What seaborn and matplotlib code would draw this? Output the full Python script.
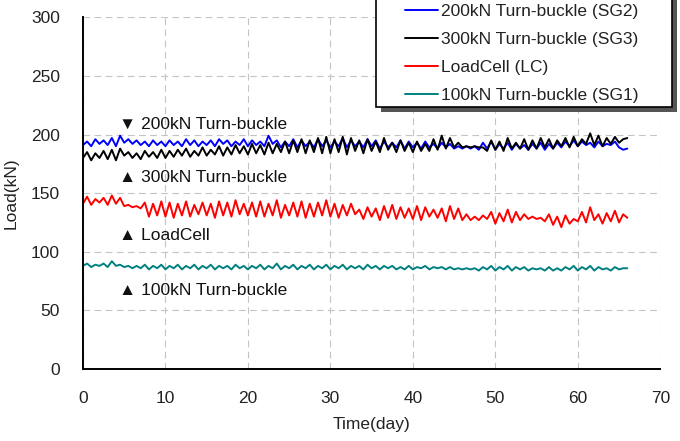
import numpy as np
import pandas as pd
import matplotlib
matplotlib.use('Agg')
import matplotlib.pyplot as plt
import seaborn as sns
from matplotlib.ticker import MultipleLocator
from matplotlib.patches import Rectangle

# Sampling times (day), half-day steps
days = [
    0.0, 0.5, 1.0, 1.5, 2.0, 2.5, 3.0, 3.5, 4.0, 4.5, 5.0, 5.5, 6.0, 6.5, 7.0, 7.5, 8.0, 8.5, 9.0, 9.5,
    10.0, 10.5, 11.0, 11.5, 12.0, 12.5, 13.0, 13.5, 14.0, 14.5, 15.0, 15.5, 16.0, 16.5, 17.0, 17.5, 18.0, 18.5, 19.0, 19.5,
    20.0, 20.5, 21.0, 21.5, 22.0, 22.5, 23.0, 23.5, 24.0, 24.5, 25.0, 25.5, 26.0, 26.5, 27.0, 27.5, 28.0, 28.5, 29.0, 29.5,
    30.0, 30.5, 31.0, 31.5, 32.0, 32.5, 33.0, 33.5, 34.0, 34.5, 35.0, 35.5, 36.0, 36.5, 37.0, 37.5, 38.0, 38.5, 39.0, 39.5,
    40.0, 40.5, 41.0, 41.5, 42.0, 42.5, 43.0, 43.5, 44.0, 44.5, 45.0, 45.5, 46.0, 46.5, 47.0, 47.5, 48.0, 48.5, 49.0, 49.5,
    50.0, 50.5, 51.0, 51.5, 52.0, 52.5, 53.0, 53.5, 54.0, 54.5, 55.0, 55.5, 56.0, 56.5, 57.0, 57.5, 58.0, 58.5, 59.0, 59.5,
    60.0, 60.5, 61.0, 61.5, 62.0, 62.5, 63.0, 63.5, 64.0, 64.5, 65.0, 65.5, 66.0,
]

sg2 = [
    191, 194, 190, 196, 192, 195, 191, 197, 190, 199, 193, 196, 192, 195, 191, 194, 190, 195, 191, 194,
    190, 195, 191, 194, 190, 196, 191, 195, 190, 194, 191, 195, 190, 196, 192, 195, 190, 194, 191, 196,
    190, 195, 191, 194, 190, 199, 192, 195, 189, 194, 190, 196, 189, 195, 190, 194, 189, 196, 190, 195,
    189, 194, 190, 197, 189, 195, 190, 194, 189, 196, 190, 195, 188, 194, 189, 193, 189, 195, 188, 194,
    189, 193, 188, 194, 189, 192, 188, 193, 189, 192, 188, 190, 188, 190, 188, 190, 187, 193, 188, 194,
    187, 192, 188, 193, 187, 192, 188, 191, 187, 192, 188, 193, 187, 192, 188, 193, 189, 194, 190, 195,
    190, 194, 191, 193, 189, 194, 190, 192, 191, 194, 189, 187, 188,
]

sg3 = [
    180, 185, 178, 184, 180, 186, 179, 187, 178, 188, 182, 185, 180, 184, 179, 186, 181, 185, 180, 187,
    180, 186, 181, 187, 182, 188, 181, 186, 182, 189, 182, 187, 183, 190, 182, 189, 183, 191, 184, 190,
    183, 192, 184, 191, 183, 193, 184, 192, 185, 194, 184, 195, 185, 196, 184, 195, 185, 197, 184, 198,
    184, 196, 185, 198, 183, 197, 186, 195, 184, 196, 186, 194, 185, 197, 187, 193, 185, 195, 186, 193,
    185, 194, 186, 192, 186, 196, 187, 199, 188, 197, 189, 193, 189, 190, 189, 190, 189, 189, 186, 195,
    187, 194, 186, 197, 188, 193, 188, 196, 187, 195, 188, 197, 189, 196, 188, 195, 190, 197, 189, 198,
    190, 196, 192, 201, 191, 199, 190, 197, 192, 198, 193, 196, 197,
]

lc = [
    141, 147, 140, 145, 142, 146, 140, 148, 141, 146, 139, 140, 138, 139, 137, 142, 130, 141, 131, 143,
    130, 142, 129, 141, 131, 143, 130, 140, 132, 142, 131, 141, 129, 143, 131, 142, 130, 144, 132, 141,
    131, 142, 130, 143, 130, 141, 131, 144, 129, 140, 131, 142, 130, 143, 129, 141, 130, 142, 131, 144,
    130, 141, 129, 140, 131, 141, 132, 136, 128, 138, 130, 137, 127, 139, 129, 140, 128, 138, 129, 137,
    128, 139, 127, 138, 130, 136, 129, 137, 126, 139, 128, 137, 127, 132, 127, 130, 127, 131, 128, 134,
    124, 133, 126, 136, 125, 134, 127, 132, 128, 130, 128, 129, 126, 132, 123, 130, 121, 131, 124, 128,
    126, 134, 125, 138, 127, 132, 124, 133, 126, 135, 125, 132, 129,
]

sg1 = [
    88, 90, 87, 89, 88, 90, 87, 92, 88, 89, 87, 88, 86, 88, 86, 89, 85, 88, 86, 89,
    85, 88, 86, 89, 85, 88, 86, 89, 85, 88, 86, 89, 85, 88, 86, 88, 85, 89, 86, 88,
    85, 88, 86, 89, 85, 88, 86, 90, 85, 88, 86, 89, 85, 88, 86, 89, 85, 88, 86, 89,
    85, 88, 86, 89, 85, 88, 86, 88, 85, 89, 86, 88, 85, 88, 86, 88, 85, 87, 85, 88,
    85, 87, 86, 88, 85, 87, 86, 87, 85, 87, 85, 86, 85, 86, 85, 86, 84, 87, 85, 88,
    84, 87, 85, 88, 84, 87, 85, 87, 84, 86, 85, 86, 84, 87, 84, 86, 84, 87, 85, 88,
    84, 87, 85, 88, 84, 87, 85, 86, 84, 87, 85, 86, 86,
]

series_names = ['200kN Turn-buckle (SG2)', '300kN Turn-buckle (SG3)',
                'LoadCell (LC)', '100kN Turn-buckle (SG1)']
series_values = [sg2, sg3, lc, sg1]
colors = ['#0000ff', '#000000', '#ff0000', '#008080']

annot_text = ['\u25bc 200kN Turn-buckle', '\u25b2 300kN Turn-buckle',
              '\u25b2 LoadCell', '\u25b2 100kN Turn-buckle']
annot_y = [209, 163, 114, 67]

df = pd.concat([pd.DataFrame({'Time': days, 'Load': v, 'Series': n})
                for n, v in zip(series_names, series_values)], ignore_index=True)

sns.set_style('white')
plt.rcParams['font.family'] = ['Liberation Sans', 'DejaVu Sans']
FS = 12.5

fig = plt.figure(figsize=(6.8, 4.41), dpi=100)
ax = fig.add_axes([0.122, 0.163, 0.849, 0.798])

# draw order: teal, red, blue, black
draw_order = [3, 2, 0, 1]
for i in draw_order:
    sub = df[df['Series'] == series_names[i]]
    sns.lineplot(data=sub, x='Time', y='Load', color=colors[i], lw=1.4,
                 ax=ax, legend=False)

ax.set_xlim(0, 70)
ax.set_ylim(0, 300)
ax.xaxis.set_major_locator(MultipleLocator(10))
ax.xaxis.set_minor_locator(MultipleLocator(2))
ax.yaxis.set_major_locator(MultipleLocator(50))
ax.yaxis.set_minor_locator(MultipleLocator(10))
ax.tick_params(which='both', direction='in', length=5, width=1.2, color='black',
               labelsize=FS, labelcolor='#222222')
ax.tick_params(axis='x', pad=16)
ax.tick_params(axis='y', pad=16.5)
ax.grid(True, which='major', color='#c4c4c4', linestyle=(0, (6, 4)), lw=0.8)
for s in ['top', 'right']:
    ax.spines[s].set_visible(False)
for s in ['left', 'bottom']:
    ax.spines[s].set_color('black')
    ax.spines[s].set_linewidth(1.4)

ax.set_xlabel('Time(day)', fontsize=FS, labelpad=8, color='#222222')
ax.set_ylabel('Load(kN)', fontsize=FS, labelpad=9, color='#222222')

for t, y in zip(annot_text, annot_y):
    ax.text(4.4, y, t, fontsize=FS, va='center', ha='left', color='#111111')

# legend box with drop shadow
W, H = 680.0, 441.0
bx0, bx1, by_top, by_bot = 376, 672, -10, 107
shadow = Rectangle(((bx0 + 5) / W, 1 - (by_bot + 5) / H), (bx1 - bx0) / W,
                   (by_bot - by_top) / H, transform=fig.transFigure,
                   facecolor='#555555', edgecolor='none', zorder=5)
box = Rectangle((bx0 / W, 1 - by_bot / H), (bx1 - bx0) / W,
                (by_bot - by_top) / H, transform=fig.transFigure,
                facecolor='white', edgecolor='black', lw=1.2, zorder=6)
fig.patches.extend([shadow, box])

handles = [plt.Line2D([], [], color=c, lw=1.4) for c in colors]
leg = fig.legend(handles, series_names, loc='upper left',
                 bbox_to_anchor=(405 / W, 1 - 4 / H), frameon=False, fontsize=FS,
                 handlelength=1.9, labelspacing=0.74, borderpad=0,
                 borderaxespad=0, handletextpad=0.2)
leg.set_zorder(7)
for txt in leg.get_texts():
    txt.set_color('#222222')

fig.savefig('out.png', dpi=100)
